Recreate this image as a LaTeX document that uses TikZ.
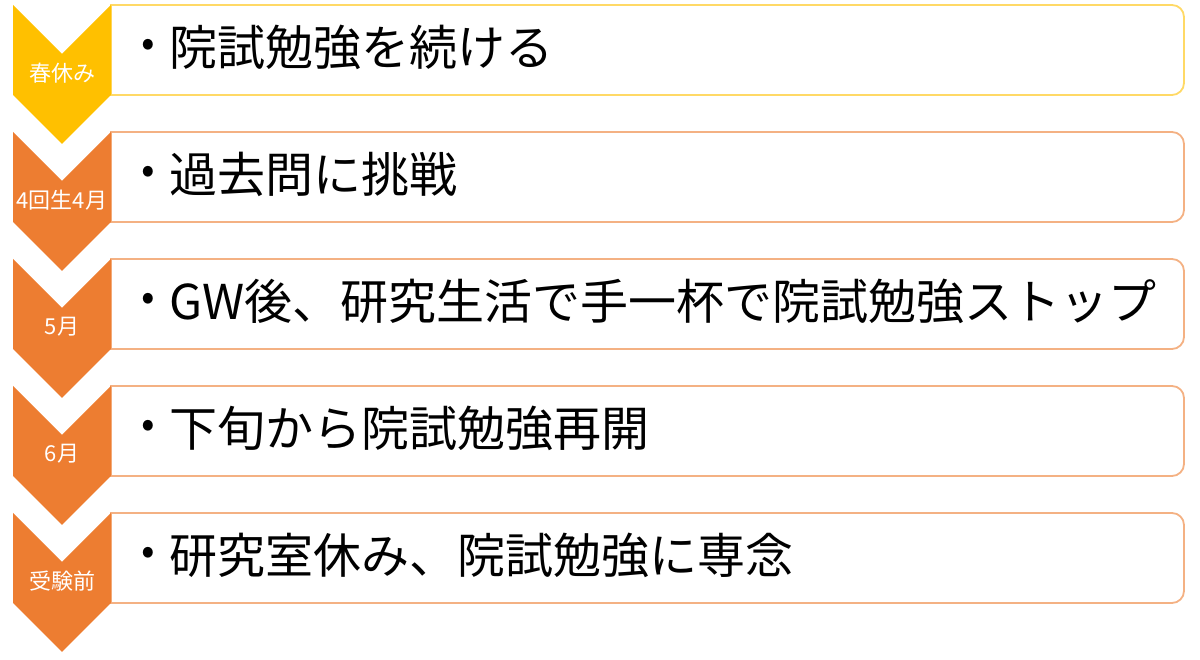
\documentclass[tikz,border=0pt]{standalone}
\usepackage{fontspec}
\setmainfont{Noto Sans CJK JP}
\definecolor{chevY}{HTML}{FFC000}
\definecolor{chevO}{HTML}{ED7D31}
\definecolor{boxY}{HTML}{FFD966}
\definecolor{boxO}{HTML}{F4B183}
\begin{document}
\begin{tikzpicture}[x=1pt,y=1pt,
  chevron/.style={fill=#1,draw=none},
  itembox/.style={draw=#1,line width=1.8pt,fill=white},
  lab/.style={text=white,font=\fontsize{22}{25}\selectfont,inner sep=0pt},
  itemtxt/.style={anchor=west,text=black,font=\fontsize{48}{52}\selectfont,inner sep=0pt},
  bullet/.style={text=black,font=\fontsize{40}{44}\selectfont,inner sep=0pt}]
\useasboundingbox (0,0) rectangle (1200,660);
\foreach \i/\yy/\cc/\bc/\lb/\tx in {
  1/5/chevY/boxY/春休み/院試勉強を続ける,
  2/132/chevO/boxO/4回生4月/過去問に挑戦,
  3/259/chevO/boxO/5月/GW後、研究生活で手一杯で院試勉強ストップ,
  4/386/chevO/boxO/6月/下旬から院試勉強再開,
  5/513/chevO/boxO/受験前/研究室休み、院試勉強に専念}{
  \pgfmathsetmacro{\T}{660-\yy}
  \pgfmathsetmacro{\B}{\T-90}
  \draw[itembox=\bc] (111,\T) -- (1172,\T) arc[start angle=90,end angle=0,radius=12]
     -- (1184,\B+12) arc[start angle=0,end angle=-90,radius=12] -- (111,\B) -- cycle;
  \fill[chevron=\cc] (13,\T) -- (62,\T-49) -- (111,\T) -- (111,\T-90)
     -- (62,\T-139) -- (13,\T-90) -- cycle;
  \node[lab] (lab\i) at (62,\T-68) {\lb};
  \node[bullet] (bul\i) at (148,\T-43) {•};
  \node[itemtxt] (txt\i) at (169,\T-42) {\tx};
}
\end{tikzpicture}
\end{document}
